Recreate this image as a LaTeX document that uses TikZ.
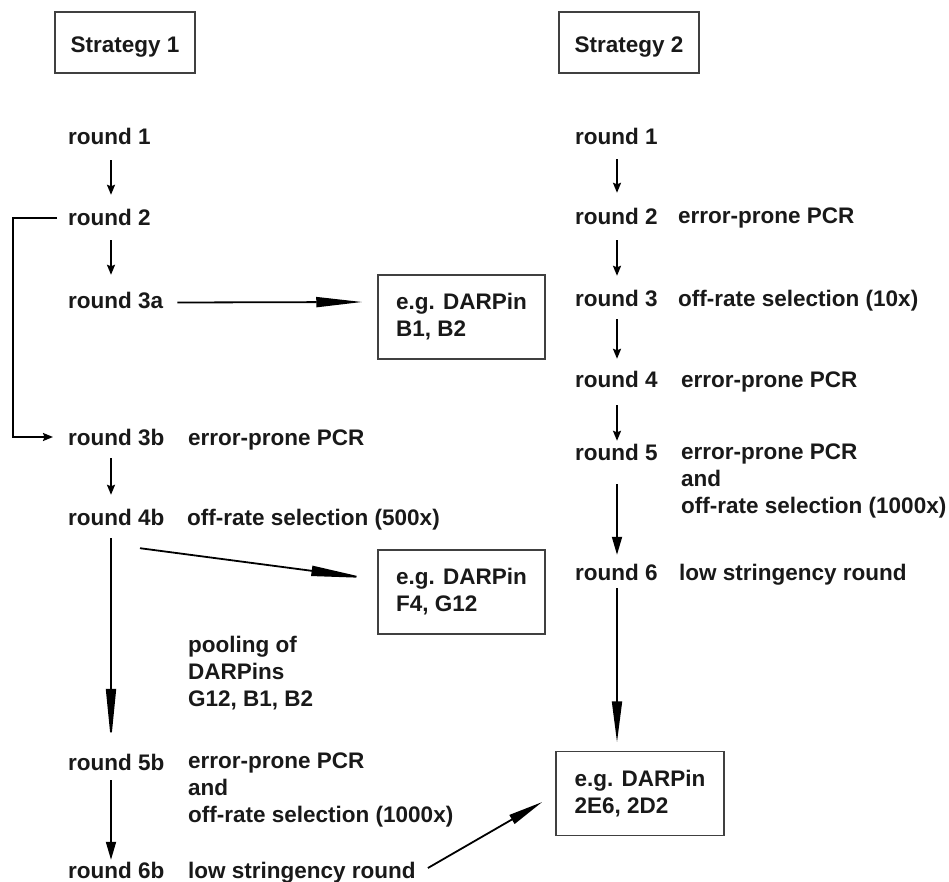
\documentclass[tikz,border=0pt]{standalone}
\usepackage{fontspec}
\setmainfont{Liberation Sans}
\usetikzlibrary{arrows.meta}
\definecolor{boxgray}{rgb}{0.25 0.25 0.25}
\definecolor{ink}{rgb}{0.1 0.1 0.1}

\begin{document}
\begin{tikzpicture}[x=1pt,y=-1pt,
    every node/.style={font=\fontsize{22.5}{27}\selectfont\bfseries, text=ink, inner sep=0pt},
    lbl/.style={anchor=base west, text height=16pt, text depth=5pt},
    multi/.style={anchor=base west, align=left},
    headbox/.style={draw=boxgray, line width=1.5pt, minimum width=140pt, minimum height=61pt, text height=21pt, text depth=0pt},
    resbox/.style={draw=boxgray, line width=1.5pt, minimum width=167pt, minimum height=84pt, align=left},
    arr/.style={line width=1.8pt, -{Stealth[length=10pt,width=8pt,inset=1.5pt]}},
    bigarr/.style={line width=1.8pt, -{Triangle[length=#1,width=10pt]}},
    bigarr/.default=40pt]

    \useasboundingbox (0,0) rectangle (949,882);

    \node[headbox] (h1) at (125,42.5) {Strategy 1};
    \node[headbox] (h2) at (629,42.5) {Strategy 2};

    \coordinate (ca) at (111,0);
    \coordinate (cb) at (617,0);

    % strategy 1
    \node[lbl] (r1) at (68,145) {round 1};
    \node[lbl] (r2) at (68,226) {round 2};
    \node[lbl] (r3a) at (68,308) {round 3a};
    \node[lbl] (r3b) at (68,445) {round 3b};
    \node[lbl] (r4b) at (68,525) {round 4b};
    \node[lbl] (r5b) at (68,770) {round 5b};
    \node[lbl] (r6b) at (68,878) {round 6b};

    % multi-line labels sit on their last line
    \node[lbl] (t3b) at (188,445) {error-prone PCR};
    \node[lbl] (t4b) at (187,525) {off-rate selection (500x)};
    \node[multi] (pool) at (188,706) {pooling of\\DARPins\\G12, B1, B2};
    \node[multi] (t5b) at (188,822) {error-prone PCR\\and\\off-rate selection (1000x)};
    \node[lbl] (t6b) at (188,878) {low stringency round};

    \node[resbox] (bB) at (461.5,317) {e.g. DARPin\\B1, B2};
    \node[resbox] (bF) at (461.5,592) {e.g. DARPin\\F4, G12};
    \node[resbox, minimum width=168pt] (bC) at (640,793.5) {e.g. DARPin\\2E6, 2D2};

    % strategy 2
    \node[lbl] (s1) at (575,145) {round 1};
    \node[lbl] (s2) at (575,225) {round 2};
    \node[lbl] (s3) at (575,306) {round 3};
    \node[lbl] (s4) at (575,387) {round 4};
    \node[lbl] (s5) at (575,460) {round 5};
    \node[lbl] (s6) at (575,580) {round 6};

    \node[lbl] (t2) at (678,224) {error-prone PCR};
    \node[lbl] (t3) at (678,306) {off-rate selection (10x)};
    \node[lbl] (t4) at (681,387) {error-prone PCR};
    \node[multi] (t5) at (681,513) {error-prone PCR\\and\\off-rate selection (1000x)};
    \node[lbl] (t6) at (679,580) {low stringency round};

    % arrows, strategy 1
    \draw[arr] ([yshift=-10pt]r1.south -| ca) -- ([yshift=15pt]r2.north -| ca);
    \draw[arr] ([yshift=-9pt]r2.south -| ca) -- ([yshift=17pt]r3a.north -| ca);
    \draw[arr] ([yshift=-8pt]r3b.south -| ca) -- ([yshift=14pt]r4b.north -| ca);
    \draw[bigarr=53pt] ([yshift=-8pt]r4b.south -| ca) -- ([yshift=12pt]r5b.north -| ca);
    \draw[bigarr=18pt] ([yshift=-5pt]r5b.south -| ca) -- ([yshift=2pt]r6b.north -| ca);
    \draw[arr] ([xshift=-11pt,yshift=2.5pt]r2.west) -- ++(-44,0) |- ([xshift=-15pt,yshift=2.5pt]r3b.west);
    \draw[bigarr=46pt] ([xshift=14pt]r3a.east) -- ([xshift=-15pt,yshift=15pt]bB.west);
    \draw[bigarr=55pt] ([xshift=72pt,yshift=-18pt]r4b.south west) -- ([xshift=-11pt,yshift=14pt]bF.west);
    \draw[bigarr=35pt] ([xshift=12pt,yshift=4.5pt]t6b.east) -- ([xshift=-13pt,yshift=-8.5pt]bC.west);

    % arrows, strategy 2
    \draw[arr] ([yshift=-9pt]s1.south -| cb) -- ([yshift=16pt]s2.north -| cb);
    \draw[arr] ([yshift=-10pt]s2.south -| cb) -- ([yshift=14pt]s3.north -| cb);
    \draw[arr] ([yshift=-8pt]s3.south -| cb) -- ([yshift=12pt]s4.north -| cb);
    \draw[arr] ([yshift=-13pt]s4.south -| cb) -- ([yshift=3pt]s5.north -| cb);
    \draw[bigarr=18pt] ([yshift=-19pt]s5.south -| cb) -- ([yshift=9pt]s6.north -| cb);
    \draw[bigarr=41pt] ([yshift=-3pt]s6.south -| cb) -- ([yshift=8.5pt]bC.north -| cb);
\end{tikzpicture}
\end{document}
